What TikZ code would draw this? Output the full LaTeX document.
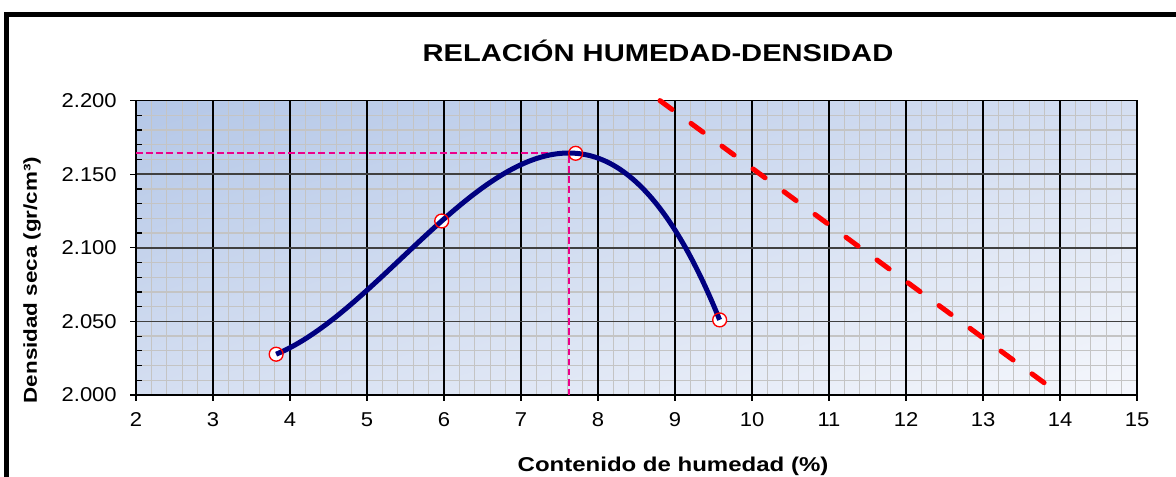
\documentclass[tikz,border=0pt]{standalone}
\usepackage{fontspec}
\usetikzlibrary{shadings}
\setmainfont{Liberation Sans}
\newfontfamily\widesans[FakeStretch=1.2]{Liberation Sans}
\newfontfamily\ticksans[FakeStretch=1.1]{Liberation Sans}
\definecolor{navycurve}{RGB}{0,0,128}
\definecolor{gridgray}{RGB}{196,196,196}
\definecolor{bgtl}{RGB}{180,199,231}
\definecolor{bgmid}{RGB}{212,222,241}
\definecolor{bgbr}{RGB}{245,247,252}
\tikzset{
  minorgrid/.style={gridgray, line width=1pt},
  majorgrid/.style={black, line width=0.8pt},
  ticklabel/.style={font=\ticksans\fontsize{15}{18}\selectfont, inner sep=0pt},
  axislabel/.style={font=\widesans\bfseries\fontsize{14}{17}\selectfont, inner sep=0pt},
  refline/.style={magenta, line width=1.4pt, dash pattern=on 5pt off 2.6pt},
  zavline/.style={red, line width=3.75pt, line cap=round, dash pattern=on 11.25pt off 17.6pt},
  datapt/.style={red, line width=1pt},
}
\begin{document}
\begin{tikzpicture}[x=57.75pt,y=1.104pt]
      \useasboundingbox (0.23377,-55.707) rectangle (15.5065,268.34);
      \draw[line width=3.6pt] (0.318,258.5) rectangle (16,-70);
      \shade[upper left=bgtl, upper right=bgmid, lower left=bgmid, lower right=bgbr] (2,0) rectangle (15,200);
      \foreach \i in {1,...,64} \draw[minorgrid] ({2+\i/5},0) -- ({2+\i/5},200);
      \foreach \y in {10,20,...,190} \draw[minorgrid] (2,\y) -- (15,\y);
      \foreach \x in {3,...,14} \draw[majorgrid] (\x,0) -- (\x,200);
      \foreach \y in {50,100,150} \draw[majorgrid, black!75, line width=1.1pt] (2,\y) -- (15,\y);
      \draw[majorgrid] (2,200) -- (15,200) -- (15,0);
      \draw[black, line width=1.5pt] (2,200) -- (2,0) -- (15,0);
      \foreach \y in {10,20,30,40,60,70,80,90,110,120,130,140,160,170,180,190} \draw[black, line width=0.9pt] (2,\y) -- ++(4.5pt,0);
      \foreach \y/\lab in {0/2.000,50/2.050,100/2.100,150/2.150,200/2.200} {
        \draw[black, line width=1pt] (2,\y) -- ++(-4.5pt,0);
        \node[ticklabel, anchor=east] (ylab\y) at (1.753,\y) {\lab};
      }
      \foreach \x in {2,...,15} {
        \draw[black, line width=1pt] (\x,0) -- ++(0,-4.5pt);
        \node[ticklabel] (xlab\x) at (\x,-17) {\x};
      }
      \coordinate (peak) at (7.62,164.4);
      \draw[refline] (2,164.4) -- (peak) -- (7.62,0);
      \draw[zavline] (8.805,200) -- (14.01,0);
      \foreach \px/\py in {3.82/27.7,5.97/118.2,7.71/164.2,9.58/51.0} \fill[white] (\px,\py) circle[radius=5.2pt];
      \draw[navycurve, line width=3.75pt, domain=3.82:9.58, samples=80, smooth, variable=\x] plot ({\x},{27.7+42.093*(\x-3.82)-4.0247*(\x-3.82)*(\x-5.97)-3.4839*(\x-3.82)*(\x-5.97)*(\x-7.71)});
      \foreach \px/\py in {3.82/27.7,5.97/118.2,7.71/164.2,9.58/51.0} \draw[datapt] (\px,\py) circle[radius=5.2pt];
      \node[font=\widesans\bfseries\fontsize{18.2}{22}\selectfont] (title) at (8.779,233.7) {RELACIÓN HUMEDAD-DENSIDAD};
      \node[axislabel, font=\widesans\bfseries\fontsize{15}{18}\selectfont] (xtitle) at (8.974,-48.2) {Contenido de humedad (\%)};
      \node[axislabel, rotate=90] (ytitle) at (0.649,78.1) {Densidad seca (gr/cm³)};
    \end{tikzpicture}
\end{document}
